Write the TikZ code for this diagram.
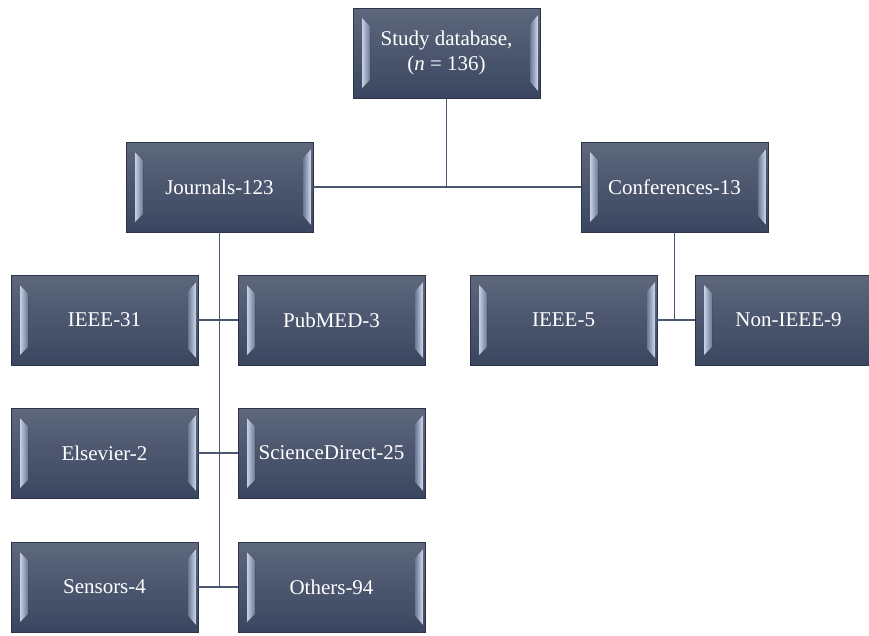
\documentclass[tikz,border=0pt]{standalone}
\usepackage{fontspec}
\setmainfont{Liberation Serif}
\usetikzlibrary{calc}
\definecolor{boxtop}{HTML}{5D687D}
\definecolor{boxbot}{HTML}{3A4560}
\definecolor{boxedge}{HTML}{2C3548}
\definecolor{bevlight}{HTML}{D2DCEE}
\definecolor{bevdark}{HTML}{6A7894}
\definecolor{conncol}{HTML}{4A5570}
\tikzset{
  bx/.style={minimum width=187pt, minimum height=90pt, inner sep=0pt,
    draw=boxedge, line width=0.8pt, top color=boxtop, bottom color=boxbot,
    text=white, font=\fontsize{21}{25}\selectfont, align=center,
    path picture={
      \coordinate (nw) at (path picture bounding box.north west);
      \coordinate (sw) at (path picture bounding box.south west);
      \coordinate (ne) at (path picture bounding box.north east);
      \coordinate (se) at (path picture bounding box.south east);
      \fill[left color=bevlight!90!boxtop, right color=bevdark]
        ($(nw)+(9pt,-10pt)$) -- ($(sw)+(9pt,10pt)$) -- ($(sw)+(17pt,18pt)$)
        -- ($(nw)+(17pt,-18pt)$) -- cycle;
      \fill[left color=bevdark, right color=bevlight]
        ($(ne)+(-2pt,-7pt)$) -- ($(se)+(-2pt,7pt)$) -- ($(se)+(-10pt,16pt)$)
        -- ($(ne)+(-10pt,-16pt)$) -- cycle;
    }},
  conn/.style={draw=conncol, line width=1.3pt}
}
\begin{document}
\begin{tikzpicture}[x=1pt,y=1pt]
\useasboundingbox (0,0) rectangle (869,-635);
\node[bx] (study) at (446.5,-53) {Study database,\\(\textit{n} = 136)};
\node[bx] (jour) at (219.5,-187) {Journals-123};
\node[bx] (conf) at (674.5,-187) {Conferences-13};
\node[bx] (ieeeA) at (104.5,-320) {IEEE-31};
\node[bx] (pub) at (331.5,-320) {PubMED-3};
\node[bx] (els) at (104.5,-453) {Elsevier-2};
\node[bx] (sci) at (331.5,-453) {ScienceDirect-25};
\node[bx] (sen) at (104.5,-587) {Sensors-4};
\node[bx] (oth) at (331.5,-587) {Others-94};
\node[bx] (ieeeB) at (563.5,-320) {IEEE-5};
\node[bx] (non) at (788.5,-320) {Non-IEEE-9};
\draw[conn] (study.south) -- (study.south |- jour.east);
\draw[conn] (jour.east) -- (conf.west);
\draw[conn] (jour.south) -- (jour.south |- sen.east);
\draw[conn] (ieeeA.east) -- (pub.west);
\draw[conn] (els.east) -- (sci.west);
\draw[conn] (sen.east) -- (oth.west);
\draw[conn] (conf.south) -- (conf.south |- ieeeB.east);
\draw[conn] (ieeeB.east) -- (non.west);
\end{tikzpicture}
\end{document}
